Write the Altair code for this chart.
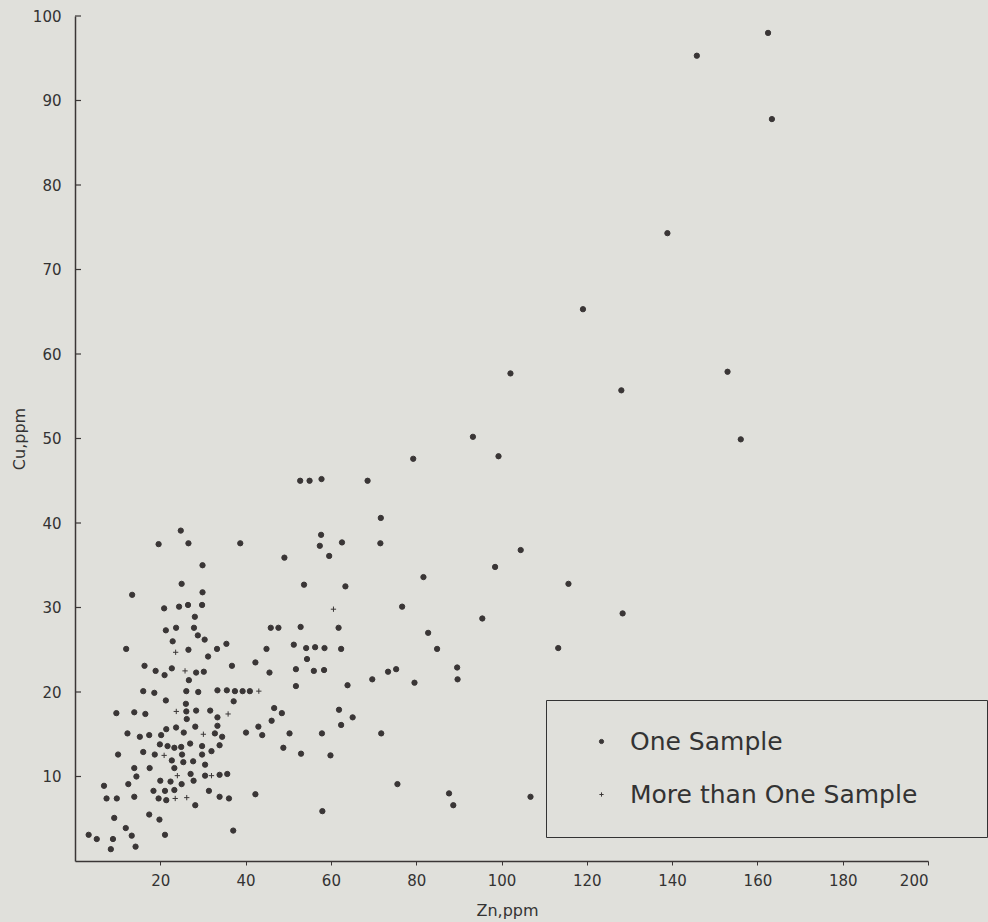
import altair as alt
import pandas as pd

# ---- data ----
one_x = [25.0, 13.4, 29.9, 20.9, 24.4, 26.5, 29.8, 28.1, 21.3, 23.7, 27.9, 45.9, 28.8, 30.4, 22.9,
         12.0, 26.6, 33.3, 35.5, 44.9, 31.2, 42.3, 16.3, 18.9, 21.0, 22.7, 28.4, 30.2, 36.8, 45.6,
         26.7, 16.0, 18.6, 26.1, 28.9, 33.4, 35.6, 37.5, 39.3, 41.0, 21.3, 37.2, 26.0, 9.7, 13.9,
         16.5, 26.1, 28.4, 31.7, 26.2, 33.4, 33.4, 46.7, 46.1, 12.3, 15.2, 17.4, 20.2, 21.4, 23.7,
         25.5, 28.2, 32.8, 34.5, 40.1, 43.0, 43.9, 10.1, 16.0, 19.9, 21.7, 23.3, 24.9, 18.7, 25.1,
         27.0, 29.8, 29.8, 32.0, 33.9, 13.9, 17.5, 22.7, 25.4, 27.7, 30.5, 23.3, 14.4, 6.8, 12.5,
         20.0, 22.4, 25.0, 27.1, 27.8, 30.5, 33.9, 35.7, 18.4, 21.1, 23.3, 31.4, 42.3, 7.4, 9.8,
         13.9, 19.6, 21.4, 33.9, 36.1, 28.2, 9.2, 17.4, 19.8, 11.9, 37.1, 3.2, 5.1, 8.9, 13.3,
         21.1, 8.4, 14.2,
         24.8, 19.6, 26.6, 38.75, 29.9,
         93.3, 99.3, 79.3, 52.8, 55.0, 57.8, 68.6, 71.7, 57.7, 62.6, 57.4, 71.6, 59.6, 49.1, 98.5,
         81.7, 53.7, 63.4,
         76.7, 95.5, 82.8, 84.9, 89.6, 89.7, 47.7, 52.9, 61.8, 51.3, 54.2, 56.3, 58.5, 62.4, 54.4,
         51.8, 56.0, 58.4, 51.8, 63.9, 69.7, 73.4, 75.3, 79.6, 48.5, 50.3, 57.9, 61.9, 65.1, 62.4,
         71.8, 48.85, 53.0, 59.9, 75.6, 87.7, 88.7, 58.0,
         162.5, 145.8, 163.4, 138.9, 119.1, 102.1, 153.0, 128.1, 156.1,
         104.5, 115.7, 128.4, 113.3, 106.8]
one_y = [32.8, 31.5, 31.8, 29.9, 30.1, 30.3, 30.3, 28.9, 27.3, 27.6, 27.6, 27.6, 26.7, 26.2, 26.0,
         25.1, 25.0, 25.1, 25.7, 25.1, 24.2, 23.5, 23.1, 22.5, 22.0, 22.8, 22.3, 22.4, 23.1, 22.3,
         21.4, 20.1, 19.9, 20.1, 20.0, 20.2, 20.2, 20.1, 20.1, 20.1, 19.0, 18.9, 18.6, 17.5, 17.6,
         17.4, 17.7, 17.8, 17.8, 16.8, 17.0, 16.0, 18.1, 16.6, 15.1, 14.7, 14.9, 14.9, 15.6, 15.8,
         15.2, 15.9, 15.1, 14.7, 15.2, 15.9, 14.9, 12.6, 12.9, 13.8, 13.6, 13.4, 13.5, 12.6, 12.6,
         13.9, 13.6, 12.6, 13.0, 13.7, 11.0, 11.0, 11.9, 11.7, 11.8, 11.4, 11.0, 10.0, 8.9, 9.1,
         9.5, 9.4, 9.1, 10.3, 9.5, 10.1, 10.2, 10.3, 8.3, 8.3, 8.4, 8.3, 7.9, 7.4, 7.4,
         7.6, 7.4, 7.2, 7.6, 7.4, 6.6, 5.1, 5.5, 4.9, 3.9, 3.6, 3.1, 2.6, 2.6, 3.0,
         3.1, 1.4, 1.7,
         39.1, 37.5, 37.6, 37.6, 35.0,
         50.2, 47.9, 47.6, 45.0, 45.0, 45.2, 45.0, 40.6, 38.6, 37.7, 37.3, 37.6, 36.1, 35.9, 34.8,
         33.6, 32.7, 32.5,
         30.1, 28.7, 27.0, 25.1, 22.9, 21.5, 27.6, 27.7, 27.6, 25.6, 25.2, 25.3, 25.2, 25.1, 23.9,
         22.7, 22.5, 22.6, 20.7, 20.8, 21.5, 22.4, 22.7, 21.1, 17.5, 15.1, 15.1, 17.9, 17.0, 16.1,
         15.1, 13.4, 12.7, 12.5, 9.1, 8.0, 6.6, 5.9,
         98.0, 95.3, 87.8, 74.3, 65.3, 57.7, 57.9, 55.7, 49.9,
         36.8, 32.8, 29.3, 25.2, 7.6]

multi_x = [23.6, 25.8, 43.1, 23.75, 35.9, 30.1, 20.9, 24.0, 32.0, 23.5, 26.2, 60.6]
multi_y = [24.7, 22.5, 20.1, 17.7, 17.4, 15.0, 12.5, 10.1, 10.1, 7.4, 7.5, 29.8]

categories = ["One Sample", "More than One Sample"]
x_ticks = [20, 40, 60, 80, 100, 120, 140, 160, 180, 200]
y_ticks = [10, 20, 30, 40, 50, 60, 70, 80, 90, 100]

df = pd.concat([
    pd.DataFrame({"zn": one_x, "cu": one_y, "kind": categories[0]}),
    pd.DataFrame({"zn": multi_x, "cu": multi_y, "kind": categories[1]}),
], ignore_index=True)
ticks_df = pd.DataFrame({"v": y_ticks})

FONT = "DejaVu Sans"
INK = "#3a3636"
CROSS = "M-1,0L1,0M0,-1L0,1"

x_enc = alt.X("zn:Q", scale=alt.Scale(domain=[0, 200], nice=False),
              axis=alt.Axis(values=x_ticks, grid=False, title="Zn,ppm", tickSize=4,
                            labelPadding=8, titleX=432, titleY=49, titleAlign="center",
                            titleBaseline="middle", titleAngle=0))
y_enc = alt.Y("cu:Q", scale=alt.Scale(domain=[0, 100], nice=False),
              axis=alt.Axis(values=y_ticks, grid=False, title="Cu,ppm", ticks=False, tickSize=0,
                            labelPadding=14, titleX=-56, titleY=422.5, titleAngle=270,
                            titleAlign="center", titleBaseline="middle"))

points = alt.Chart(df).mark_point(filled=True, fill=INK, stroke=INK, strokeWidth=1,
                                  opacity=1, size=28).encode(
    x=x_enc,
    y=y_enc,
    shape=alt.Shape("kind:N", scale=alt.Scale(domain=categories, range=["circle", CROSS]),
                    legend=alt.Legend(title=" ", titleOrient="right", titlePadding=41,
                                      titleFontSize=10,
                                      orient="none", legendX=471, legendY=684,
                                      padding=29, rowPadding=27, labelFontSize=25,
                                      labelLimit=600, labelOffset=16, symbolOffset=14,
                                      symbolSize=18, strokeColor="#333333",
                                      symbolStrokeWidth=1)),
)

y_ticks_layer = alt.Chart(ticks_df).mark_rule(color=INK, strokeWidth=1.2).encode(
    y=alt.Y("v:Q", scale=alt.Scale(domain=[0, 100], nice=False)),
    x=alt.value(0),
    x2=alt.value(6),
)

chart = alt.layer(points, y_ticks_layer).properties(
    width=853, height=845,
    autosize=alt.AutoSizeParams(type="none"),
    padding={"left": 75, "top": 16, "right": 60, "bottom": 61},
    background="#e0e0db",
).configure_view(stroke=None).configure_axis(
    domainColor=INK, domainWidth=1.5, tickColor=INK, tickWidth=1,
    labelFont=FONT, labelFontSize=15, labelColor="#333333",
    titleFont=FONT, titleFontSize=16, titleFontWeight="normal", titleColor="#333333",
).configure_legend(
    labelFont=FONT, labelColor="#333333",
)

chart.save("out.html", embed_options={"renderer": "svg", "actions": False})
